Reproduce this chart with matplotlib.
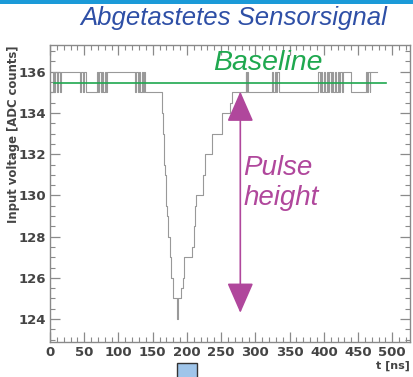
import matplotlib
matplotlib.use("Agg")
import matplotlib.pyplot as plt
from matplotlib.patches import FancyArrowPatch, Rectangle
from matplotlib.ticker import MultipleLocator

# sampled trace, held until the next sample (steps-post)
t_ns = [2, 4, 6, 8, 10, 12, 14, 16,
        44, 46, 48, 50, 52,
        68, 70, 72, 74, 76, 78, 80, 82, 84,
        124, 126, 128, 130, 132, 134, 136, 138, 139,
        163, 164, 165, 166, 167, 168, 169, 170, 171, 172, 173, 175, 177, 179, 185, 186, 187,
        192, 194, 196, 208, 210, 212, 214, 224, 226, 237, 251, 263,
        266, 286, 287, 288, 289,
        324, 326, 328, 330, 332, 334,
        392, 394, 396, 398, 400, 402, 404, 406, 408, 410, 412, 414, 416, 418,
        420, 422, 424, 426, 428, 430,
        439, 461, 463, 465, 467, 468, 478]
adc = [135, 136, 135, 136, 135, 136, 135, 136,
       135, 136, 135, 136, 135,
       136, 135, 136, 135, 136, 135, 136, 135, 136,
       135, 136, 135, 136, 135, 136, 135, 136, 135,
       134.5, 134, 133, 132, 131.5, 131, 130, 129.5, 129, 128.5, 128, 127, 126, 125, 124.5, 124, 125,
       125.5, 126, 127, 127.5, 128.5, 129.5, 130, 131, 132, 133, 134, 134.5,
       135, 136, 135, 136, 135,
       136, 135, 136, 135, 136, 135,
       136, 135, 136, 135, 136, 135, 136, 135, 136, 135, 136, 135, 136, 135,
       136, 135, 136, 135, 136, 136,
       135, 136, 135, 136, 135, 136, 136]

baseline_level = 135.45
baseline_span = [6, 491]
pulse_t = 278
pulse_top = 135.04
pulse_bottom = 124.3

fig = plt.figure(figsize=(4.13, 3.77), dpi=100)
ax = fig.add_axes([0.121, 0.0936, 0.872, 0.787])

ax.plot(t_ns, adc, drawstyle="steps-post", color="#999999", lw=0.8)
ax.plot(baseline_span, [baseline_level, baseline_level], color="#1fa84f", lw=1.2)

arrow = FancyArrowPatch((pulse_t, pulse_bottom), (pulse_t, pulse_top),
                        arrowstyle="<|-|>,head_length=19,head_width=8.3",
                        mutation_scale=1, shrinkA=0, shrinkB=0,
                        color="#b0479c", lw=1.2, zorder=5)
ax.add_patch(arrow)

ax.set_xlim(0, 526)
ax.set_ylim(122.9, 137.3)
ax.xaxis.set_major_locator(MultipleLocator(50))
ax.xaxis.set_minor_locator(MultipleLocator(10))
ax.yaxis.set_major_locator(MultipleLocator(2))
ax.yaxis.set_minor_locator(MultipleLocator(0.5))
ax.tick_params(which="both", direction="in", top=True, right=True,
               color="#8a8a8a", labelcolor="#444444")
ax.tick_params(which="major", length=7, width=0.9, pad=3)
ax.tick_params(which="minor", length=3.5, width=0.8)
for lab in ax.get_xticklabels() + ax.get_yticklabels():
    lab.set_fontweight("bold")
    lab.set_fontsize(9.5)

for s in ax.spines.values():
    s.set_color("#8a8a8a")
    s.set_linewidth(1.0)

ax.set_ylabel("Input voltage [ADC counts]", loc="top", fontsize=8.4,
              fontweight="bold", color="#444444")
ax.yaxis.set_label_coords(-0.083, 1.0)
ax.set_xlabel("t [ns]", loc="right", fontsize=8, fontweight="bold",
              color="#444444", labelpad=1)

ax.text(pulse_t + 4, 130.6, "Pulse\nheight", color="#b0479c", fontsize=20,
        style="italic", family="Liberation Sans", va="center", ha="left",
        linespacing=1.2)
fig.text(268 / 413, 1 - 63 / 377, "Baseline", color="#1fa84f", fontsize=20.5,
         style="italic", family="Liberation Sans", ha="center", va="center")
fig.text(234 / 413, 1 - 18 / 377, "Abgetastetes Sensorsignal", color="#2e4fa6",
         fontsize=18.5, style="italic", family="Liberation Sans",
         ha="center", va="center")

fig.add_artist(Rectangle((0, 1 - 4 / 377), 1, 4 / 377, transform=fig.transFigure,
                         color="#1b9ad8", lw=0))
fig.add_artist(Rectangle((177 / 413, -0.01), 20 / 413, 0.01 + 14 / 377,
                         transform=fig.transFigure, facecolor="#9fc5ea",
                         edgecolor="#333333", lw=1.0))

fig.savefig("out.png", dpi=100)
